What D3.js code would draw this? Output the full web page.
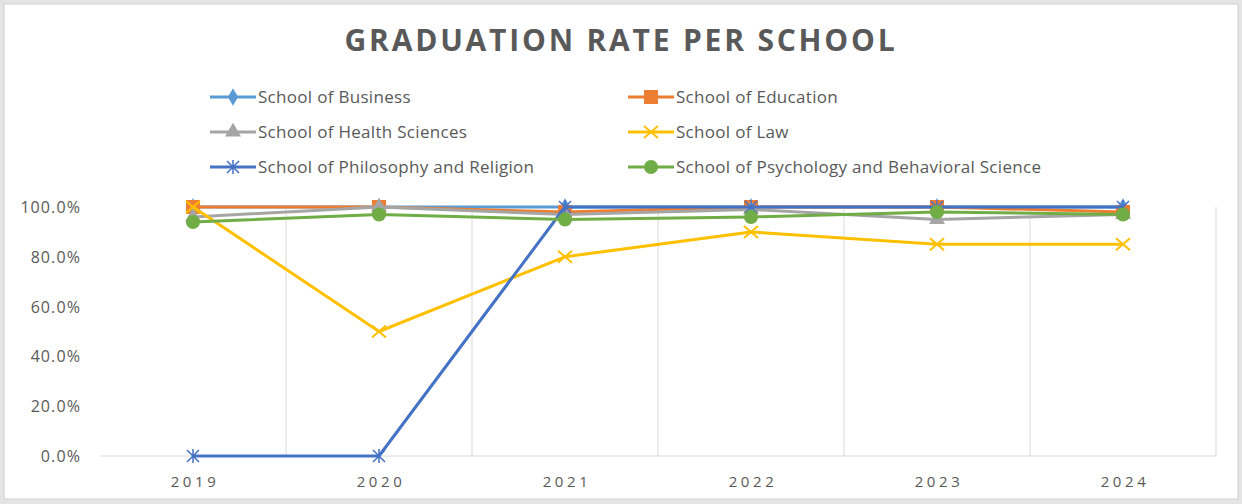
<!DOCTYPE html>
<html>
<head>
<meta charset="utf-8">
<script src="https://cdn.jsdelivr.net/npm/d3@7"></script>
<style>
  body { margin: 0; background: #fff; }
  svg { display: block; }
</style>
</head>
<body>
<div id="container"></div>
<script>
// données du graphique
const years = ["2019", "2020", "2021", "2022", "2023", "2024"];
const yTicks = [0, 20, 40, 60, 80, 100];

const business   = [100, 100, 100, 100, 100, 100];
const education  = [100, 100, 98, 100, 100, 98];
const health     = [96, 100, 97, 99, 95, 97];
const law        = [100, 50, 80, 90, 85, 85];
const philosophy = [0, 0, 100, 100, 100, 100];
const psychology = [94, 97, 95, 96, 98, 97];

const seriesNames = ["School of Business", "School of Education", "School of Health Sciences",
  "School of Law", "School of Philosophy and Religion", "School of Psychology and Behavioral Science"];

const width = 1242, height = 504,
  fontPolice = "'Open Sans', 'Noto Sans', sans-serif",
  textColor = "#595959";

const series = [
  {name: seriesNames[0], values: business,   color: "#5B9BD5", marker: "diamond"},
  {name: seriesNames[1], values: education,  color: "#ED7D31", marker: "square"},
  {name: seriesNames[2], values: health,     color: "#A5A5A5", marker: "triangle"},
  {name: seriesNames[3], values: law,        color: "#FFC000", marker: "x"},
  {name: seriesNames[4], values: philosophy, color: "#4472C4", marker: "star"},
  {name: seriesNames[5], values: psychology, color: "#70AD47", marker: "circle"}
];

const svg = d3.select("#container").append("svg")
  .attr("width", width)
  .attr("height", height);

/* cadre */
svg.append("rect")
  .attr("x", 0).attr("y", 0).attr("width", width).attr("height", height)
  .attr("fill", "#e4e4e4");
svg.append("rect")
  .attr("x", 4).attr("y", 4).attr("width", width - 8).attr("height", height - 9)
  .attr("fill", "#fff").attr("stroke", "#cfcfcf").attr("stroke-width", 1);

/* titre */
svg.append("text")
  .attr("x", 621).attr("y", 51)
  .attr("text-anchor", "middle")
  .style("font-family", fontPolice)
  .style("font-size", "30px")
  .style("font-weight", "bold")
  .style("letter-spacing", "2.8px")
  .style("fill", textColor)
  .text("GRADUATION RATE PER SCHOOL");

const plot = {left: 100, right: 1216, top: 207, bottom: 456};

const x = d3.scaleBand().domain(years).range([plot.left, plot.right]);
const y = d3.scaleLinear().domain([0, 100]).range([plot.bottom, plot.top]);

/* grille verticale */
svg.append("g").selectAll("line")
  .data(years)
  .enter().append("line")
    .attr("x1", d => x(d) + x.bandwidth())
    .attr("x2", d => x(d) + x.bandwidth())
    .attr("y1", plot.top)
    .attr("y2", plot.bottom)
    .attr("stroke", "#d9d9d9")
    .attr("stroke-width", 1);

/* axe x */
svg.append("line")
  .attr("x1", plot.left).attr("x2", plot.right)
  .attr("y1", plot.bottom).attr("y2", plot.bottom)
  .attr("stroke", "#d9d9d9").attr("stroke-width", 1);

svg.append("g").selectAll("text")
  .data(years)
  .enter().append("text")
    .attr("x", d => x(d) + x.bandwidth() / 2 + 2)
    .attr("y", 487)
    .attr("text-anchor", "middle")
    .style("font-family", fontPolice)
    .style("font-size", "15px")
    .style("letter-spacing", "3.6px")
    .style("fill", textColor)
    .text(d => d);

/* axe y */
svg.append("g").selectAll("text")
  .data(yTicks)
  .enter().append("text")
    .attr("x", 81)
    .attr("y", d => y(d) + 6)
    .attr("text-anchor", "end")
    .style("font-family", fontPolice)
    .style("font-size", "16px")
    .style("letter-spacing", "1.1px")
    .style("fill", textColor)
    .text(d => d.toFixed(1) + "%");

/* symboles */
function drawMarker(g, type, color, cx, cy) {
  if (type === "diamond") {
    g.append("path").attr("d", d3.symbol(d3.symbolDiamond, 90)())
      .attr("transform", "translate(" + cx + "," + cy + ")").attr("fill", color);
  } else if (type === "square") {
    g.append("rect").attr("x", cx - 7).attr("y", cy - 7).attr("width", 14).attr("height", 14)
      .attr("fill", color);
  } else if (type === "triangle") {
    g.append("path").attr("d", d3.symbol(d3.symbolTriangle, 110)())
      .attr("transform", "translate(" + cx + "," + cy + ")").attr("fill", color);
  } else if (type === "x") {
    g.append("path").attr("d", "M" + (cx - 7) + "," + (cy - 6) + "L" + (cx + 7) + "," + (cy + 6)
      + "M" + (cx - 7) + "," + (cy + 6) + "L" + (cx + 7) + "," + (cy - 6))
      .attr("stroke", color).attr("stroke-width", 2).attr("fill", "none");
  } else if (type === "star") {
    g.append("path").attr("d", "M" + (cx - 6) + "," + (cy - 6) + "L" + (cx + 6) + "," + (cy + 6)
      + "M" + (cx - 6) + "," + (cy + 6) + "L" + (cx + 6) + "," + (cy - 6)
      + "M" + cx + "," + (cy - 7) + "L" + cx + "," + (cy + 7))
      .attr("stroke", color).attr("stroke-width", 1.5).attr("fill", "none");
  } else if (type === "circle") {
    g.append("circle").attr("cx", cx).attr("cy", cy).attr("r", 7).attr("fill", color);
  }
}

/* séries */
const line = d3.line()
  .x((d, i) => x(years[i]) + x.bandwidth() / 2)
  .y(d => y(d));

series.forEach(function(s) {
  const g = svg.append("g");
  g.append("path")
    .datum(s.values)
    .attr("d", line)
    .attr("fill", "none")
    .attr("stroke", s.color)
    .attr("stroke-width", 3)
    .attr("stroke-linejoin", "round");
  s.values.forEach(function(v, i) {
    drawMarker(g, s.marker, s.color, x(years[i]) + x.bandwidth() / 2, y(v));
  });
});

/* légende */
const legendCols = [210, 628], legendRows = [97, 132, 167];
series.forEach(function(s, i) {
  const lx = legendCols[i % 2], ly = legendRows[Math.floor(i / 2)];
  const g = svg.append("g");
  g.append("line")
    .attr("x1", lx).attr("x2", lx + 46).attr("y1", ly).attr("y2", ly)
    .attr("stroke", s.color).attr("stroke-width", 3);
  drawMarker(g, s.marker, s.color, lx + 23, ly);
  g.append("text")
    .attr("x", lx + 48).attr("y", ly + 6)
    .style("font-family", fontPolice)
    .style("font-size", "17px")
    .style("letter-spacing", "0.3px")
    .style("fill", textColor)
    .text(s.name);
});
</script>
</body>
</html>
